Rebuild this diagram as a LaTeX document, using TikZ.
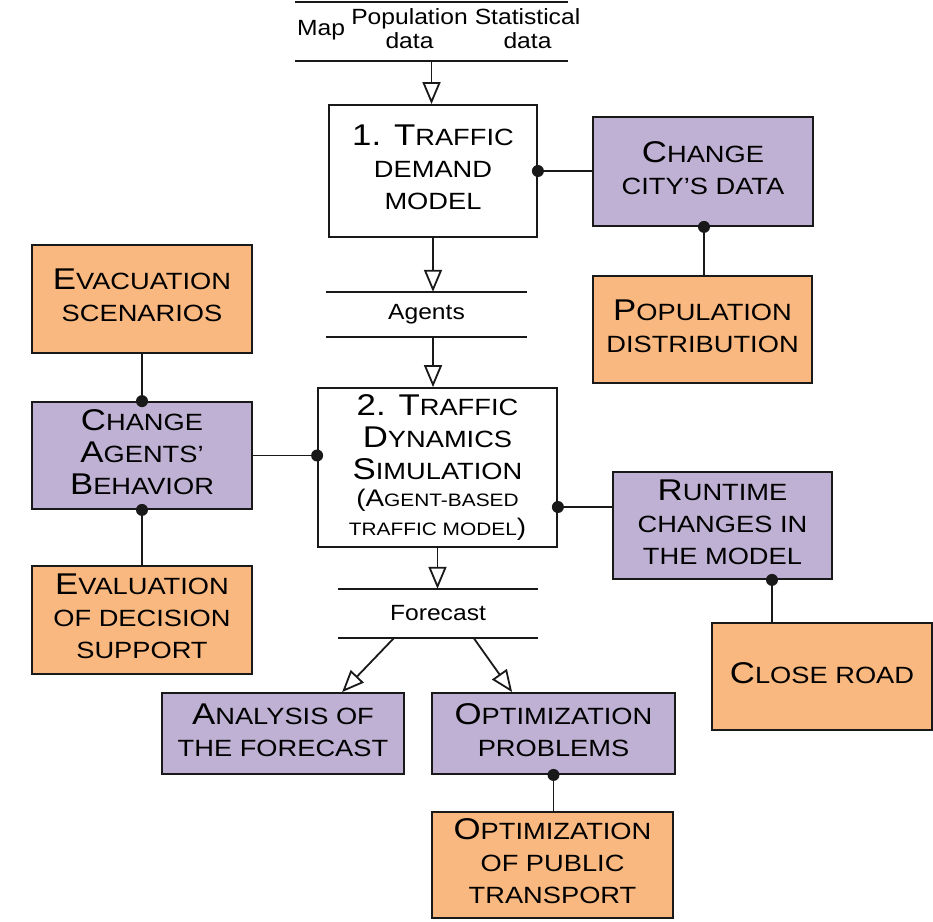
\documentclass[tikz,border=0pt]{standalone}
\usepackage{fontspec}
\setmainfont{Liberation Sans}[FakeStretch=1.12]
\newfontfamily\boxfont{Liberation Sans}[FakeStretch=1.16]
\usetikzlibrary{arrows.meta,calc}
\definecolor{orangebox}{RGB}{249,184,128}
\definecolor{purplebox}{RGB}{191,177,211}
\definecolor{edge}{RGB}{25,25,25}
\newcommand\bg[1]{{\fontsize{30}{32}\selectfont #1}}
\newcommand\lastd{\rule[-7pt]{0pt}{7pt}}
\begin{document}
\begin{tikzpicture}[x=1pt,y=-1pt,
  box/.style={draw=edge, line width=1.8pt, inner sep=0pt, align=center, font=\boxfont\fontsize{23.5}{32}\selectfont},
  obox/.style={box, fill=orangebox},
  pbox/.style={box, fill=purplebox},
  wbox/.style={box, fill=white},
  store/.style={inner sep=0pt, font=\fontsize{22}{24}\selectfont},
  lbl/.style={inner sep=0pt, align=center, font=\fontsize{22}{24}\selectfont},
  flow/.style={line width=1.8pt, draw=edge, -{Triangle[open,length=22pt,width=18pt]}},
  link/.style={line width=1.8pt, draw=edge},
  dot/.style={fill=edge},
]
\useasboundingbox (0,0) rectangle (933,921);

% data stores
\node[store, minimum width=273pt, minimum height=59pt] (inp) at (431.5,31.5) {};
\node[lbl] (map) at (321,30.3) {Map};
\node[lbl] (popd) at (409.5,29) {Population\\data};
\node[lbl] (stat) at (527.5,29) {Statistical\\data};
\node[store, minimum width=201pt, minimum height=45pt] (ag) at (426.5,314.5) {Agents};
\node[store, minimum width=200pt, minimum height=49pt] (fc) at (438,613.5) {Forecast};
\foreach \s in {inp,ag,fc}{
  \draw[link] (\s.north west) -- (\s.north east);
  \draw[link] (\s.south west) -- (\s.south east);
}

% boxes
\node[wbox, minimum width=208pt, minimum height=132pt] (demand) at (433,171) {\bg{1. T}RAFFIC\\DEMAND\\MODEL\lastd};
\node[pbox, minimum width=220pt, minimum height=109pt] (city) at (703,171.5) {\bg{C}HANGE\\CITY’S DATA\lastd};
\node[obox, minimum width=219pt, minimum height=107pt] (pop) at (702.5,329.5) {\bg{P}OPULATION\\DISTRIBUTION\lastd};
\node[obox, minimum width=220pt, minimum height=108pt] (evac) at (142,299) {\bg{E}VACUATION\\SCENARIOS\lastd};
\node[pbox, minimum width=220pt, minimum height=107pt] (agb) at (142,455.5) {\bg{C}HANGE\\\bg{A}GENTS’\\\bg{B}EHAVIOR\lastd};
\node[obox, minimum width=220pt, minimum height=108pt] (eval) at (142,620) {\bg{E}VALUATION\\OF DECISION\\SUPPORT\lastd};
\node[wbox, minimum width=239pt, minimum height=159pt] (sim) at (437.5,467.5) {\bg{2. T}RAFFIC\\\bg{D}YNAMICS\\\bg{S}IMULATION\\[-5pt]{\fontsize{24}{32}\selectfont (A}{\fontsize{18}{32}\selectfont GENT-BASED}\\[-3pt]{\fontsize{18}{32}\selectfont TRAFFIC MODEL}{\fontsize{24}{32}\selectfont )}};
\node[pbox, minimum width=219pt, minimum height=107pt] (rt) at (722.5,525.5) {\bg{R}UNTIME\\CHANGES IN\\THE MODEL\lastd};
\node[obox, minimum width=220pt, minimum height=107pt] (close) at (822,676.5) {\bg{C}LOSE ROAD\lastd};
\node[pbox, minimum width=242pt, minimum height=81pt] (an) at (283,733.5) {\bg{A}NALYSIS OF\\THE FORECAST\lastd};
\node[pbox, minimum width=243pt, minimum height=81pt] (op) at (553.5,733.5) {\bg{O}PTIMIZATION\\PROBLEMS\lastd};
\node[obox, minimum width=241pt, minimum height=106pt] (ot) at (552.5,865) {\bg{O}PTIMIZATION\\OF PUBLIC\\TRANSPORT\lastd};

% flows
\draw[flow] (inp.south) -- (inp.south |- demand.north);
\draw[flow] (demand.south) -- (demand.south |- ag.north);
\draw[flow] (ag.south -| demand.south) -- (sim.north -| demand.south);
\draw[flow] (sim.south) -- (sim.south |- fc.north);
\draw[flow] ([xshift=56pt]fc.south west) -- ([xshift=181pt]an.north west);
\draw[flow] ([xshift=136pt]fc.south west) -- ([xshift=81pt]op.north west);

% links with dots
\draw[link] (demand.east) -- (demand.east -| city.west);
\fill[dot] (demand.east) circle (6pt);
\draw[link] ([xshift=1pt]city.south) -- ([xshift=1pt]city.south |- pop.north);
\fill[dot] ([xshift=1pt]city.south) circle (6pt);
\draw[link] (evac.south) -- (agb.north);
\fill[dot] (agb.north) circle (6pt);
\draw[link] (agb.east) -- (agb.east -| sim.west);
\fill[dot] (agb.east -| sim.west) circle (6pt);
\draw[link] (agb.south) -- (eval.north);
\fill[dot] (agb.south) circle (6pt);
\coordinate (simr) at ([yshift=-39.5pt]sim.east);
\draw[link] (simr) -- (simr -| rt.west);
\fill[dot] (simr) circle (6pt);
\coordinate (rtb) at ([xshift=49.5pt]rt.south);
\draw[link] (rtb) -- (rtb |- close.north);
\fill[dot] (rtb) circle (6pt);
\draw[link] (op.south) -- (op.south |- ot.north);
\fill[dot] (op.south) circle (6pt);
\end{tikzpicture}
\end{document}
